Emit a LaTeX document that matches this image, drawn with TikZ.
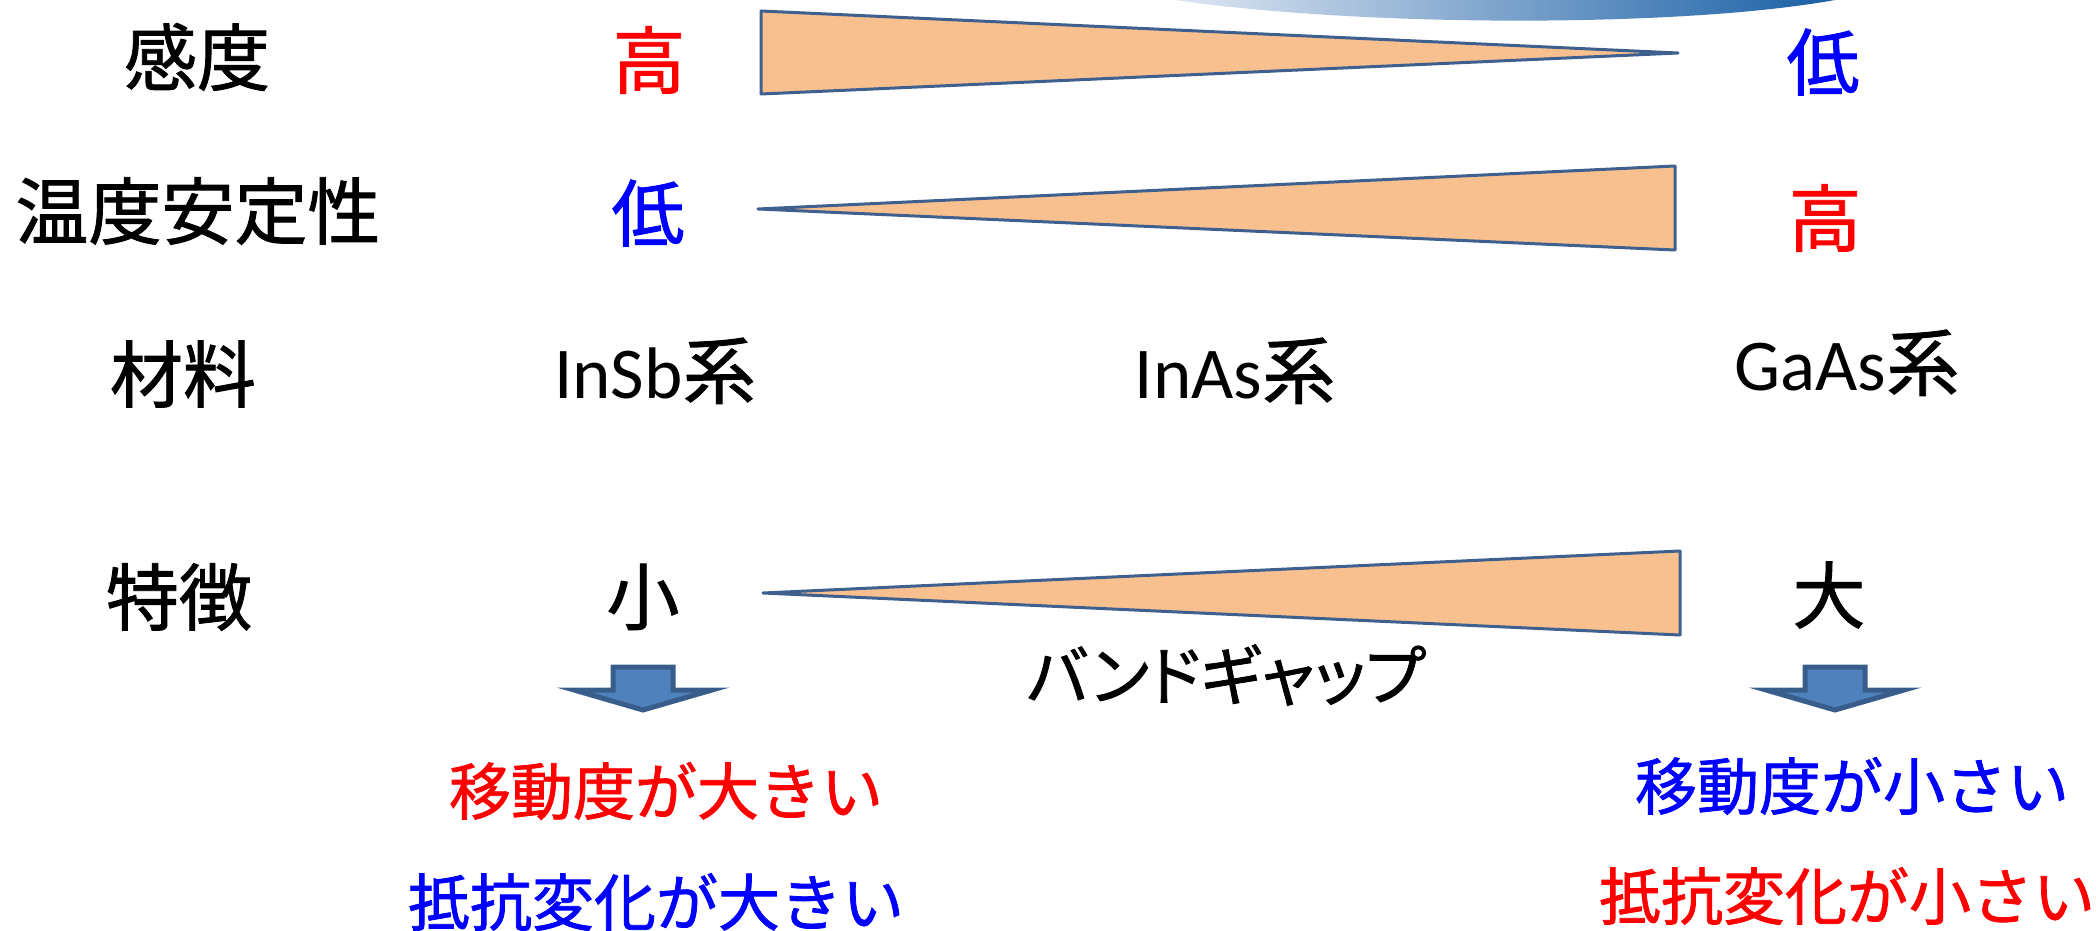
\documentclass[tikz,border=0pt]{standalone}
\usepackage{fontspec}
\setmainfont{Carlito}
\newfontfamily\jp[FakeBold=1.2]{Noto Sans CJK JP}
\newfontfamily\jpp[RawFeature=+palt,FakeBold=1.2]{Noto Sans CJK JP}
\definecolor{tri}{RGB}{249,192,143}
\definecolor{triedge}{RGB}{62,96,142}
\definecolor{arrfill}{RGB}{79,129,189}
\definecolor{arredge}{RGB}{56,93,138}
\definecolor{redA}{RGB}{255,0,0}
\definecolor{blueA}{RGB}{0,0,255}
\definecolor{arcL}{RGB}{222,230,242}
\definecolor{arcR}{RGB}{25,95,165}
\begin{document}
\begin{tikzpicture}[x=1pt,y=-1pt,
  big/.style={inner sep=0pt, font=\fontsize{73}{86}\selectfont\jp},
  mid/.style={inner sep=0pt, font=\fontsize{62}{74}\selectfont\jp},
  kana/.style={inner sep=0pt, font=\fontsize{65}{78}\selectfont\jpp},
  wedge/.style={fill=tri, draw=triedge, line width=3pt, line join=round},
  blockarrow/.style={fill=arrfill, draw=arredge, line width=5pt, line join=miter}]
\useasboundingbox (0,0) rectangle (2096,931);
% decorative gradient arc at top
\shade[left color=arcL, right color=arcR]
  (1175,0) .. controls (1360,27) and (1680,28) .. (1835,0) -- cycle;
% wedges
\draw[wedge] (761,11) -- (1678,53) -- (761,94) -- cycle;
\draw[wedge] (758,209) -- (1675,166) -- (1675,250) -- cycle;
\draw[wedge] (763,593) -- (1680,551) -- (1680,635) -- cycle;
% block arrows
\draw[blockarrow] (613,667) -- (673,667) -- (673,690) -- (712,690) -- (643,710) -- (574,690) -- (613,690) -- cycle;
\draw[blockarrow] (1805,667) -- (1865,667) -- (1865,690) -- (1904,690) -- (1835,710) -- (1766,690) -- (1805,690) -- cycle;
% row labels
\node[big] (kando) at (197,57) {感度};
\node[big] (ondo) at (198,211) {温度安定性};
\node[big] (zairyo) at (183,374) {材料};
\node[big] (tokucho) at (179,597) {特徴};
% values
\node[big,text=redA] (hi1) at (649,60) {高};
\node[big,text=blueA] (lo1) at (1823,62) {低};
\node[big,text=blueA] (lo2) at (648,213) {低};
\node[big,text=redA] (hi2) at (1825,218) {高};
\node[big,anchor=base] (insb) at (655,398) {{\rmfamily InSb}系};
\node[big,anchor=base] (inas) at (1235,398) {{\rmfamily InAs}系};
\node[big,anchor=base] (gaas) at (1847,390) {{\rmfamily GaAs}系};
\node[big] (small) at (643,597) {小};
\node[big] (large) at (1829,595) {大};
\node[kana] (bandgap) at (1226,675) {バンドギャップ};
\node[mid,text=redA] (m1) at (666,791) {移動度が大きい};
\node[mid,text=blueA] (r1) at (656,902) {抵抗変化が大きい};
\node[mid,text=blueA] (m2) at (1852,786) {移動度が小さい};
\node[mid,text=redA] (r2) at (1847,896) {抵抗変化が小さい};
\end{tikzpicture}
\end{document}
